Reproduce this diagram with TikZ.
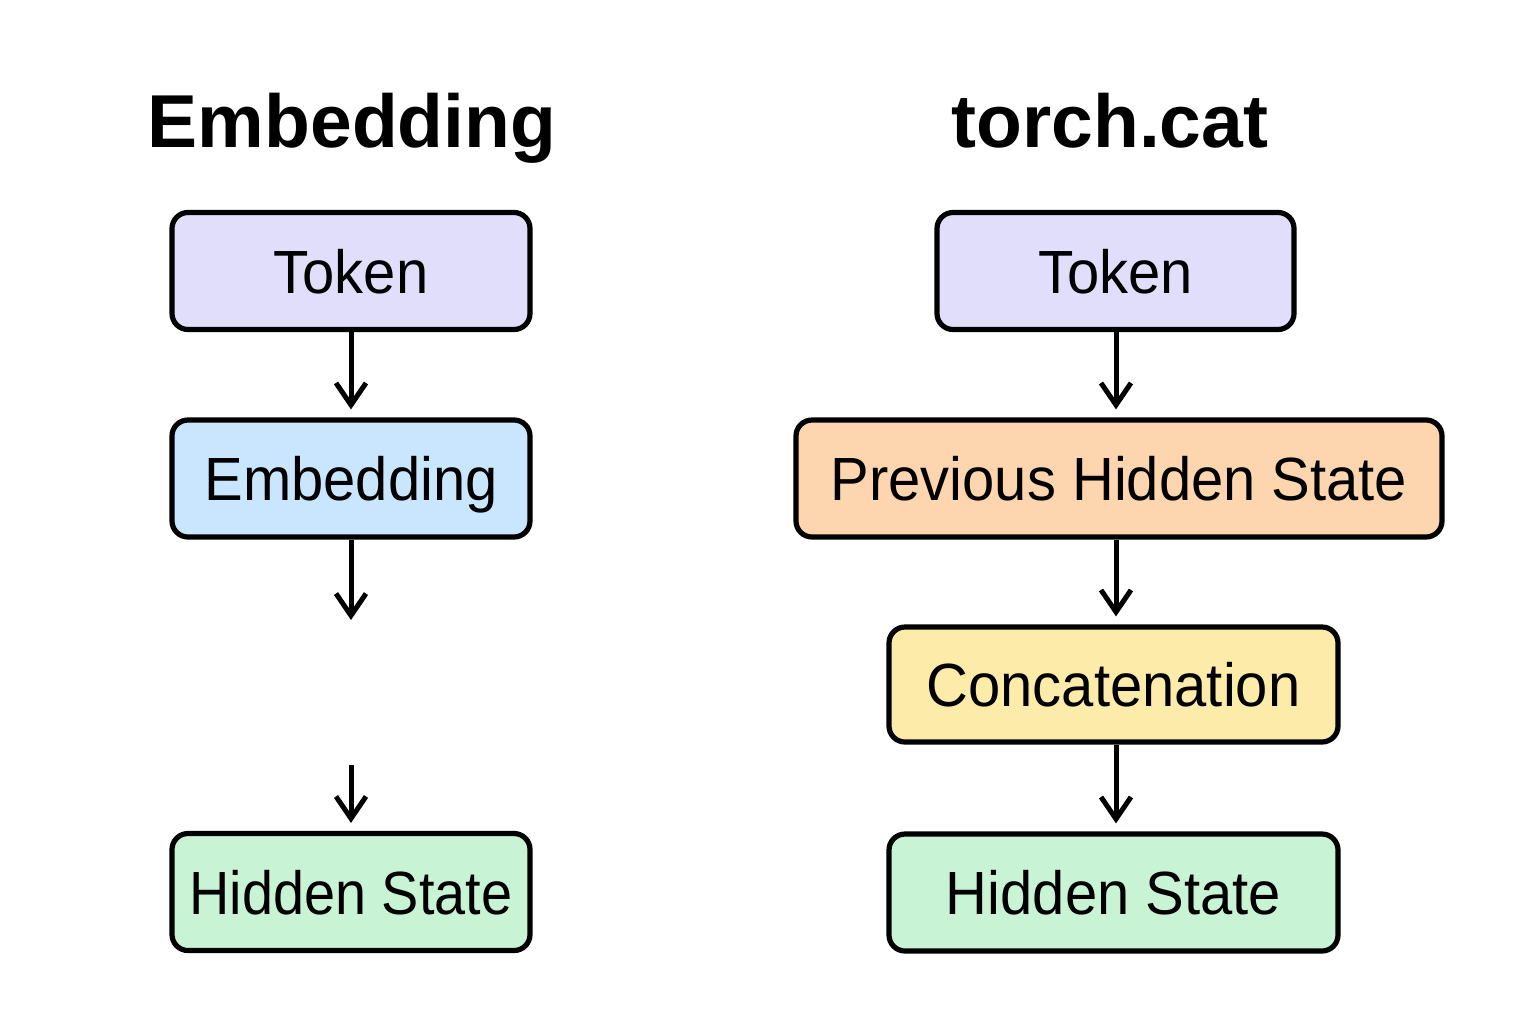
\documentclass[tikz,border=0pt]{standalone}
\usepackage{fontspec}
\setmainfont{Liberation Sans}
\newfontfamily\boxfont[FakeStretch=0.95]{Liberation Sans}
\newfontfamily\boxfontn[FakeStretch=0.915]{Liberation Sans}
\usetikzlibrary{arrows.meta}
\definecolor{tokcol}{HTML}{E1DEFC}
\definecolor{embcol}{HTML}{C9E6FE}
\definecolor{hidcol}{HTML}{C9F3D5}
\definecolor{prevcol}{HTML}{FDD5AE}
\definecolor{catcol}{HTML}{FDEBAA}
\tikzset{
  box/.style={draw=black, line width=2.6pt, rounded corners=8pt, inner sep=0pt,
    font=\boxfont\fontsize{30.5pt}{32pt}\selectfont, text height=22pt, text depth=0pt,
    minimum height=58.5pt, align=center},
  narrowtext/.style={font=\boxfontn\fontsize{30.5pt}{32pt}\selectfont},
  flow/.style={line width=2.5pt, -{Straight Barb[length=11pt,width=15pt,line width=2.5pt]}, shorten >=4pt},
  ttl/.style={font=\bfseries\fontsize{37.5pt}{40pt}\selectfont, anchor=base}
}
\begin{document}
\begin{tikzpicture}[x=0.5pt,y=-0.5pt]
\useasboundingbox (0,0) rectangle (1536,1024);
% titles
\node[ttl] (t1) at (352,147) {Embedding};
\node[ttl] (t2) at (1110,147) {torch.cat};
% left column
\node[box, fill=tokcol, minimum width=179pt] (ltok) at (351,271) {Token};
\node[box, fill=embcol, minimum width=179pt] (lemb) at (351,478.5) {Embedding};
\node[box, narrowtext, fill=hidcol, minimum width=179pt] (lhid) at (351,892) {Hidden State};
\coordinate (lgap1) at (351,620);
\coordinate (lgap2) at (351,765);
\draw[flow] (ltok) -- (lemb);
\draw[flow, shorten >=0pt] (lemb) -- (lgap1);
\draw[flow] (lgap2) -- (lhid);
% right column
\node[box, fill=tokcol, minimum width=178.5pt] (rtok) at (1115.5,271) {Token};
\node[box, fill=prevcol, minimum width=323pt] (rprev) at (1119,478.5) {Previous Hidden State};
\node[box, fill=catcol, minimum width=224.5pt, minimum height=57.5pt] (rcat) at (1113.5,684.5) {Concatenation};
\node[box, fill=hidcol, minimum width=224.5pt] (rhid) at (1113.5,892.5) {Hidden State};
\draw[flow] (rtok.south -| 1116,0) -- (rprev.north -| 1116,0);
\draw[flow] (rprev.south -| 1116,0) -- (rcat.north -| 1116,0);
\draw[flow] (rcat.south -| 1116,0) -- (rhid.north -| 1116,0);
\end{tikzpicture}
\end{document}
